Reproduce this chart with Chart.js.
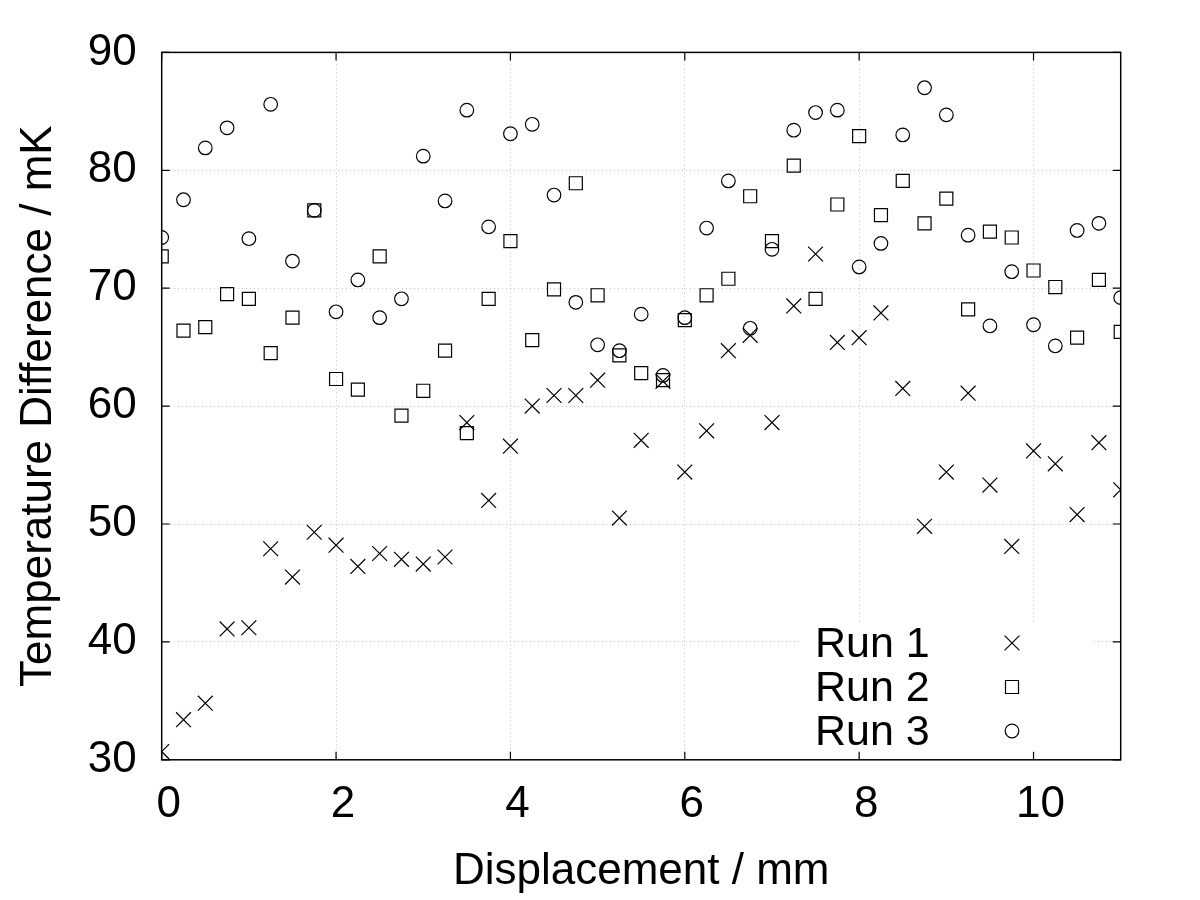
<!DOCTYPE html>
<html>
<head>
<meta charset="utf-8">
<script src="https://cdn.jsdelivr.net/npm/chart.js@4/dist/chart.umd.min.js"></script>
<style>
  html, body { margin: 0; padding: 0; background: #fff; }
  #wrap { width: 1200px; height: 900px; }
</style>
</head>
<body>
<div id="wrap"><canvas id="c" width="1200" height="900"></canvas></div>
<script>
const displacement = [0, 0.25, 0.5, 0.75, 1, 1.25, 1.5, 1.75, 2, 2.25, 2.5, 2.75, 3, 3.25, 3.5, 3.75, 4, 4.25, 4.5, 4.75, 5, 5.25, 5.5, 5.75, 6, 6.25, 6.5, 6.75, 7, 7.25, 7.5, 7.75, 8, 8.25, 8.5, 8.75, 9, 9.25, 9.5, 9.75, 10, 10.25, 10.5, 10.75, 11];
const run1 = [30.7, 33.4, 34.8, 41.1, 41.2, 47.9, 45.5, 49.3, 48.2, 46.4, 47.5, 47.0, 46.6, 47.2, 58.6, 52.0, 56.6, 60.0, 60.9, 60.9, 62.2, 50.5, 57.1, 62.1, 54.4, 57.9, 64.7, 66.0, 58.6, 68.5, 72.9, 65.4, 65.8, 67.9, 61.5, 49.8, 54.4, 61.1, 53.3, 48.1, 56.2, 55.1, 50.8, 56.9, 52.9];
const run2 = [72.7, 66.4, 66.7, 69.5, 69.1, 64.5, 67.5, 76.6, 62.3, 61.4, 72.7, 59.2, 61.3, 64.7, 57.7, 69.1, 74.0, 65.6, 69.9, 78.9, 69.4, 64.3, 62.8, 62.2, 67.3, 69.4, 70.8, 77.8, 74.0, 80.4, 69.1, 77.1, 82.9, 76.2, 79.1, 75.5, 77.6, 68.2, 74.8, 74.3, 71.5, 70.1, 65.8, 70.7, 66.3];
const run3 = [74.3, 77.5, 81.9, 83.6, 74.2, 85.6, 72.3, 76.6, 68.0, 70.7, 67.5, 69.1, 81.2, 77.4, 85.1, 75.2, 83.1, 83.9, 77.9, 68.8, 65.2, 64.7, 67.8, 62.6, 67.5, 75.1, 79.1, 66.6, 73.3, 83.4, 84.9, 85.1, 71.8, 73.8, 83.0, 87.0, 84.7, 74.5, 66.8, 71.4, 66.9, 65.1, 74.9, 75.5, 69.2];
const seriesNames = ['Run 1', 'Run 2', 'Run 3'];
const xTickValues = [0, 2, 4, 6, 8, 10];
const yTickValues = [30, 40, 50, 60, 70, 80, 90];

const FONT = "'Liberation Sans', Arial, Helvetica, sans-serif";
const markerStyles = ['crossRot', 'rect', 'circle'];
const markerRadius = [10.5, 9.2, 6.8];

function pts(ys) { return displacement.map((x, i) => ({ x: x, y: ys[i] })); }

const datasets = [run1, run2, run3].map((ys, k) => ({
  label: seriesNames[k],
  data: pts(ys),
  showLine: false,
  pointStyle: markerStyles[k],
  pointRadius: markerRadius[k],
  pointHoverRadius: markerRadius[k],
  pointBorderWidth: 1.2,
  pointBorderColor: '#000',
  pointBackgroundColor: 'rgba(0,0,0,0)'
}));

function drawMarker(ctx, style, r, x, y) {
  ctx.beginPath();
  if (style === 'circle') {
    ctx.arc(x, y, r, 0, Math.PI * 2);
  } else if (style === 'rect') {
    const s = Math.SQRT1_2 * r;
    ctx.rect(x - s, y - s, 2 * s, 2 * s);
  } else {
    const o = Math.SQRT1_2 * r;
    ctx.moveTo(x - o, y - o); ctx.lineTo(x + o, y + o);
    ctx.moveTo(x - o, y + o); ctx.lineTo(x + o, y - o);
  }
  ctx.stroke();
}

const framePlugin = {
  id: 'frame',
  beforeDatasetsDraw(chart) {
    const ctx = chart.ctx, a = chart.chartArea;
    ctx.save();
    // key background (blanks the grid behind the key)
    ctx.fillStyle = '#fff';
    ctx.fillRect(799, 622, 295, 132);
    // border box
    ctx.strokeStyle = '#000';
    ctx.lineWidth = 1.5;
    ctx.strokeRect(a.left, a.top, a.right - a.left, a.bottom - a.top);
    // inward ticks (mirrored)
    const tl = 8;
    ctx.lineWidth = 1.2;
    ctx.beginPath();
    const xs = chart.scales.x, ys = chart.scales.y;
    xTickValues.forEach(v => {
      const px = xs.getPixelForValue(v);
      ctx.moveTo(px, a.bottom); ctx.lineTo(px, a.bottom - tl);
      ctx.moveTo(px, a.top); ctx.lineTo(px, a.top + tl);
    });
    yTickValues.forEach(v => {
      const py = ys.getPixelForValue(v);
      ctx.moveTo(a.left, py); ctx.lineTo(a.left + tl, py);
      ctx.moveTo(a.right, py); ctx.lineTo(a.right - tl, py);
    });
    ctx.stroke();
    ctx.restore();
  },
  afterDatasetsDraw(chart) {
    const ctx = chart.ctx;
    ctx.save();
    ctx.font = '43px ' + FONT;
    ctx.fillStyle = '#000';
    ctx.textAlign = 'left';
    ctx.textBaseline = 'middle';
    ctx.strokeStyle = '#000';
    ctx.lineWidth = 1.2;
    const rowY = [643, 687, 731];
    seriesNames.forEach((name, k) => {
      ctx.fillText(name, 815, rowY[k] + 2);
      drawMarker(ctx, markerStyles[k], markerRadius[k], 1012, rowY[k]);
    });
    ctx.restore();
  }
};

new Chart(document.getElementById('c'), {
  type: 'scatter',
  data: { datasets: datasets },
  options: {
    responsive: false,
    animation: false,
    events: [],
    layout: { padding: { top: 52.4, right: 79.3, left: 0, bottom: 0 } },
    plugins: { legend: { display: false }, tooltip: { enabled: false } },
    scales: {
      x: {
        type: 'linear',
        min: 0, max: 11,
        afterBuildTicks: s => { s.ticks = xTickValues.map(v => ({ value: v })); },
        afterFit: s => { s.height = 140.2; },
        ticks: {
          includeBounds: false,
          color: '#000',
          font: { family: FONT, size: 44 },
          padding: 19,
          labelOffset: 7,
          maxRotation: 0
        },
        grid: { color: '#c4c4c4', lineWidth: 1, drawTicks: false },
        border: { display: false, dash: [1, 3] },
        title: {
          display: true,
          text: 'Displacement / mm',
          color: '#000',
          font: { family: FONT, size: 44 },
          padding: { top: 0, bottom: 2 }
        }
      },
      y: {
        type: 'linear',
        min: 30, max: 90,
        afterBuildTicks: s => { s.ticks = yTickValues.map(v => ({ value: v })); },
        afterFit: s => { s.width = 161.7; },
        ticks: {
          color: '#000',
          font: { family: FONT, size: 44 },
          padding: 25
        },
        grid: { color: '#c4c4c4', lineWidth: 1, drawTicks: false },
        border: { display: false, dash: [1, 3] },
        title: {
          display: true,
          text: 'Temperature Difference / mK',
          color: '#000',
          font: { family: FONT, size: 44 },
          padding: { top: 12, bottom: 0 }
        }
      }
    }
  },
  plugins: [framePlugin]
});
</script>
</body>
</html>
